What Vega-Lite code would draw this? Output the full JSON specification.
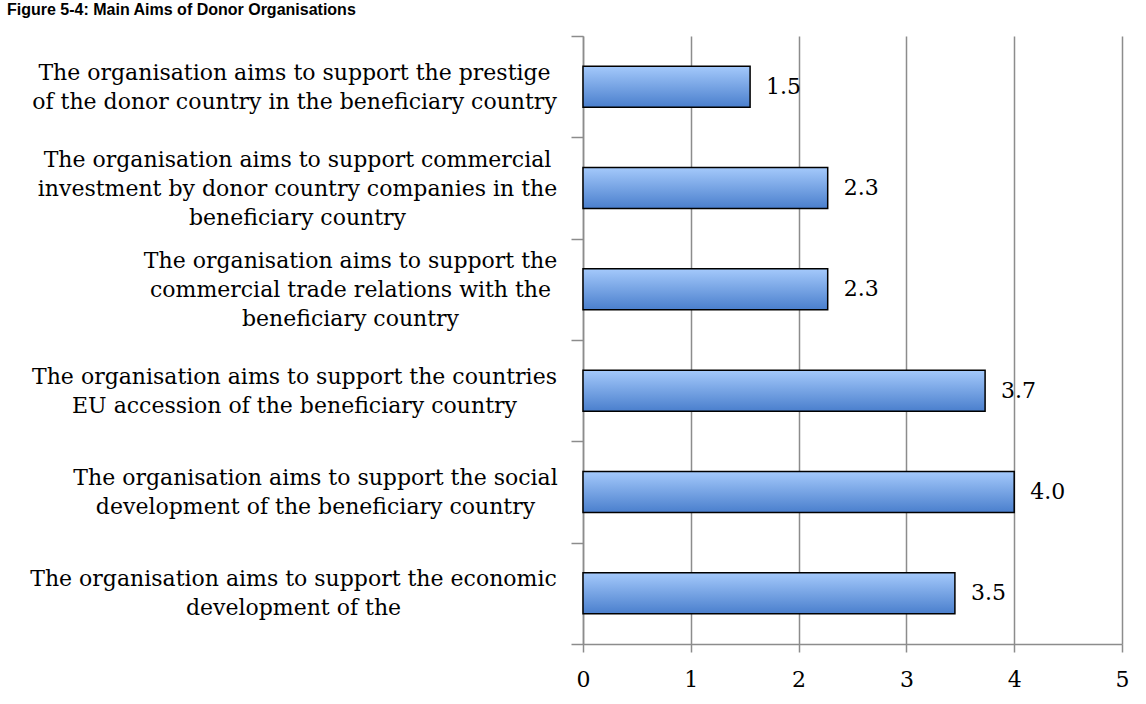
{
  "$schema": "https://vega.github.io/schema/vega-lite/v6.json",
  "width": 539,
  "height": 608,
  "autosize": "none",
  "padding": {"left": 583, "top": 36, "right": 24, "bottom": 60},
  "background": "white",
  "title": {
    "text": "Figure 5-4: Main Aims of Donor Organisations",
    "anchor": "start",
    "frame": "group",
    "dx": -576,
    "dy": 26,
    "offset": 20,
    "baseline": "alphabetic",
    "font": "Liberation Sans",
    "fontSize": 16,
    "fontWeight": "bold",
    "color": "black"
  },
  "data": {
    "values": [
      {"aim": "The organisation aims to support the prestige|of the donor country in the beneficiary country", "score": 1.55, "label": "1.5"},
      {"aim": "The organisation aims to support commercial|investment by donor country companies in the|beneficiary country", "score": 2.27, "label": "2.3"},
      {"aim": "The organisation aims to support the|commercial trade relations with the|beneficiary country", "score": 2.27, "label": "2.3"},
      {"aim": "The organisation aims to support the countries|EU accession of the beneficiary country", "score": 3.73, "label": "3.7"},
      {"aim": "The organisation aims to support the social|development of the beneficiary country", "score": 4.0, "label": "4.0"},
      {"aim": "The organisation aims to support the economic|development of the", "score": 3.45, "label": "3.5"}
    ]
  },
  "encoding": {
    "y": {
      "field": "aim",
      "type": "nominal",
      "sort": null,
      "scale": {"paddingInner": 0, "paddingOuter": 0},
      "axis": {
        "title": null,
        "labelExpr": "split(datum.label, '|')",
        "labelFont": "DejaVu Serif",
        "labelFontSize": 22,
        "labelLineHeight": 29,
        "labelColor": "black",
        "labelAlign": "center",
        "labelBaseline": "middle",
        "labelOffset": {"expr": "-(length(split(datum.value, '|')) - 1) * 14.5"},
        "labelPadding": {"expr": "15 + ((datum && isString(datum.value)) ? (indexof(datum.value, 'prestige') >= 0 ? 262 : indexof(datum.value, 'investment') >= 0 ? 259 : indexof(datum.value, 'trade') >= 0 ? 206 : indexof(datum.value, 'accession') >= 0 ? 262 : indexof(datum.value, 'social') >= 0 ? 241 : 263) : 0)"},
        "labelLimit": 700,
        "tickBand": "extent",
        "tickSize": 12,
        "tickColor": "#8c8c8c",
        "tickWidth": 1.5,
        "domainColor": "#8c8c8c",
        "domainWidth": 1.5,
        "grid": false
      }
    }
  },
  "layer": [
    {
      "mark": {
        "type": "bar",
        "height": {"band": 0.405},
        "fill": {
          "gradient": "linear",
          "x1": 0, "y1": 0, "x2": 0, "y2": 1,
          "stops": [
            {"offset": 0, "color": "#a4c9fb"},
            {"offset": 1, "color": "#4a7fcd"}
          ]
        },
        "stroke": "black",
        "strokeWidth": 1.5
      },
      "encoding": {
        "x": {
          "field": "score",
          "type": "quantitative",
          "scale": {"domain": [0, 5], "nice": false},
          "axis": {
            "values": [0, 1, 2, 3, 4, 5],
            "format": "d",
            "title": null,
            "grid": true,
            "gridColor": "#8c8c8c",
            "gridWidth": 1.5,
            "domainColor": "#8c8c8c",
            "domainWidth": 1.5,
            "tickColor": "#8c8c8c",
            "tickWidth": 1.5,
            "tickSize": 8,
            "labelFont": "DejaVu Serif",
            "labelFontSize": 22,
            "labelColor": "black",
            "labelPadding": 17,
            "labelFlush": false
          }
        }
      }
    },
    {
      "mark": {
        "type": "text",
        "align": "left",
        "baseline": "middle",
        "dx": 16,
        "font": "DejaVu Serif",
        "fontSize": 22,
        "color": "black"
      },
      "encoding": {
        "x": {"field": "score", "type": "quantitative"},
        "text": {"field": "label"}
      }
    }
  ],
  "config": {"view": {"stroke": null}}
}
